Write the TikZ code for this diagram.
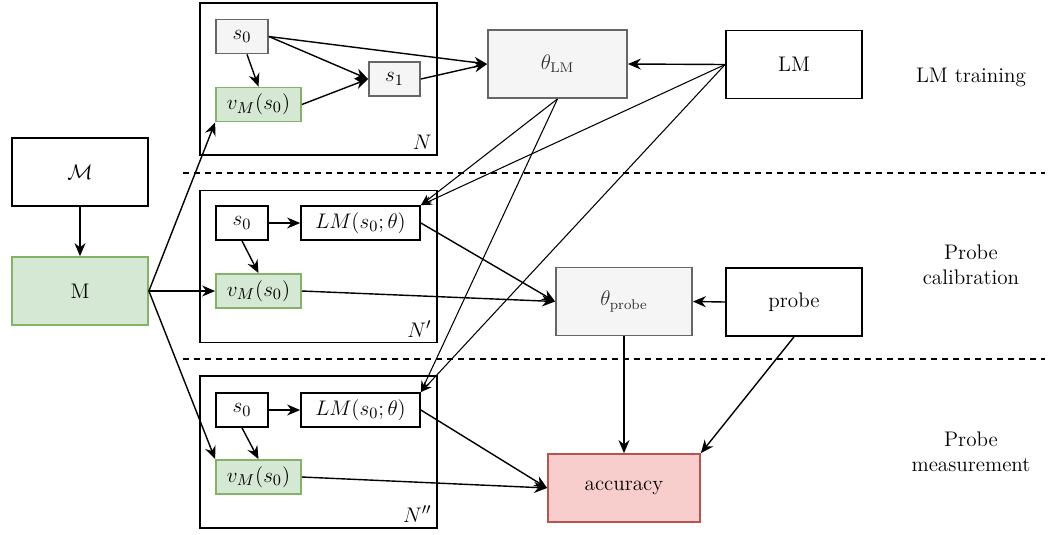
\documentclass[tikz,border=0pt]{standalone}
\usepackage{amsmath}
\usepackage{tikz}
\usetikzlibrary{arrows.meta, positioning}
\definecolor{greenfill}{HTML}{D5E8D4}
\definecolor{greendraw}{HTML}{82B366}
\definecolor{greyfill}{HTML}{F5F5F5}
\definecolor{greydraw}{HTML}{666666}
\definecolor{redfill}{HTML}{F8CECC}
\definecolor{reddraw}{HTML}{B85450}
\tikzset{
  stagebox/.style={
    rectangle, inner sep=0pt,
    minimum width=27.2mm, minimum height=13.6mm,
    text centered, font=\fontsize{12}{14}\selectfont,
    draw=#1, line width=1pt
  },
  smallbox/.style={
    rectangle, inner sep=0pt,
    minimum width=10.4mm, minimum height=6.8mm,
    text centered, font=\fontsize{12.5}{14}\selectfont,
    draw=#1, line width=1pt
  },
  panelbox/.style={
    rectangle, inner sep=0pt,
    minimum width=47.4mm, minimum height=30.4mm,
    draw=black, line width=1pt
  },
  flowarrow/.style={-{Stealth[length=2.6mm, width=2.2mm]}, line width=0.8pt, color=black},
  thinarrow/.style={-{Stealth[length=2.2mm, width=1.8mm]}, line width=0.6pt, color=black},
  phasetext/.style={align=center, font=\fontsize{12}{14.5}\selectfont},
}

\begin{document}
\begin{tikzpicture}[x=0.2mm, y=-0.2mm]
  \useasboundingbox (0,0) rectangle (1053,534);
  \draw[dashed, line width=0.7pt, dash pattern=on 1.2mm off 1mm] (183,173) -- (1045,173);
  \draw[dashed, line width=0.7pt, dash pattern=on 1.2mm off 1mm] (183,359) -- (1045,359);

  \node[panelbox](pN)   at (318.5,79)  {};
  \node[panelbox](pNp)  at (318.5,266.5) {};
  \node[panelbox](pNpp) at (318.5,452) {};
  \node[anchor=south east, font=\fontsize{12.5}{14}\selectfont, inner sep=1.2mm] at (pN.south east)   {$N$};
  \node[anchor=south east, font=\fontsize{12.5}{14}\selectfont, inner sep=1.2mm] at (pNp.south east)  {$N'$};
  \node[anchor=south east, font=\fontsize{12.5}{14}\selectfont, inner sep=1.2mm] at (pNpp.south east) {$N''$};

  \node[smallbox=greydraw, fill=greyfill](s0a) at (242,36.5) {$s_0$};
  \node[smallbox=greendraw, fill=greenfill, minimum width=17mm](vMa) at (258.5,104.5) {$v_M(s_0)$};
  \node[smallbox=greydraw, fill=greyfill, minimum width=10.2mm](s1) at (394.5,79) {$s_1$};

  \node[smallbox=black, fill=white](s0b) at (242,223) {$s_0$};
  \node[smallbox=black, fill=white, minimum width=23.8mm](LMb) at (360.5,223) {$LM(s_0;\theta)$};
  \node[smallbox=greendraw, fill=greenfill, minimum width=17mm](vMb) at (258.5,291) {$v_M(s_0)$};

  \node[smallbox=black, fill=white](s0c) at (242,410) {$s_0$};
  \node[smallbox=black, fill=white, minimum width=23.8mm](LMc) at (360.5,410) {$LM(s_0;\theta)$};
  \node[smallbox=greendraw, fill=greenfill, minimum width=17mm](vMc) at (258.5,477) {$v_M(s_0)$};

  \node[stagebox=black, fill=white](calM) at (80,172) {$\mathcal{M}$};
  \node[stagebox=greendraw, fill=greenfill](M) at (80,291) {M};
  \node[stagebox=greydraw, fill=greyfill, text=black!80, minimum width=27.8mm](thLM) at (557.5,64) {$\theta_{\mathrm{LM}}$};
  \node[stagebox=black, fill=white](LM) at (794,64.5) {LM};
  \node[stagebox=greydraw, fill=greyfill, text=black!80](thpr) at (624,301.5) {$\theta_{\mathrm{probe}}$};
  \node[stagebox=black, fill=white](probe) at (794,302) {probe};
  \node[stagebox=reddraw, fill=redfill, minimum width=30.4mm](acc) at (624,488) {accuracy};

  \node[phasetext](train) at (971,77)  {LM training};
  \node[phasetext](calib) at (971,265) {Probe\\calibration};
  \node[phasetext](meas)  at (971,452) {Probe\\measurement};

  \draw[flowarrow](calM.south)--(M.north);
  \draw[flowarrow]([xshift=1mm]s0a.south)--(vMa.north);
  \draw[flowarrow](s0a.east)--(s1.west);
  \draw[flowarrow](vMa.east)--(s1.west);
  \draw[flowarrow](s0a.east)--(thLM.west);
  \draw[flowarrow](s1.east)--(thLM.west);
  \draw[flowarrow](LM.west)--(thLM.east);
  \draw[flowarrow](M.east)--(vMa.south west);
  \draw[flowarrow](M.east)--(vMb.west);
  \draw[flowarrow](M.east)--(vMc.north west);
  \draw[flowarrow](s0b.east)--(LMb.west);
  \draw[flowarrow](s0b.south)--(vMb.north);
  \draw[flowarrow](s0c.east)--(LMc.west);
  \draw[flowarrow](s0c.south)--(vMc.north);
  \draw[thinarrow](LM.west)--(LMb.north east);
  \draw[thinarrow](LM.west)--(LMc.north east);
  \draw[thinarrow](thLM.south)--(LMb.north east);
  \draw[thinarrow](thLM.south)--(LMc.north east);
  \draw[flowarrow](LMb.east)--(thpr.west);
  \draw[flowarrow](vMb.east)--(thpr.west);
  \draw[flowarrow](probe.west)--(thpr.east);
  \draw[flowarrow](thpr.south)--(acc.north);
  \draw[flowarrow](probe.south)--(acc.north east);
  \draw[flowarrow](LMc.east)--(acc.west);
  \draw[flowarrow](vMc.east)--(acc.west);
\end{tikzpicture}
\end{document}
